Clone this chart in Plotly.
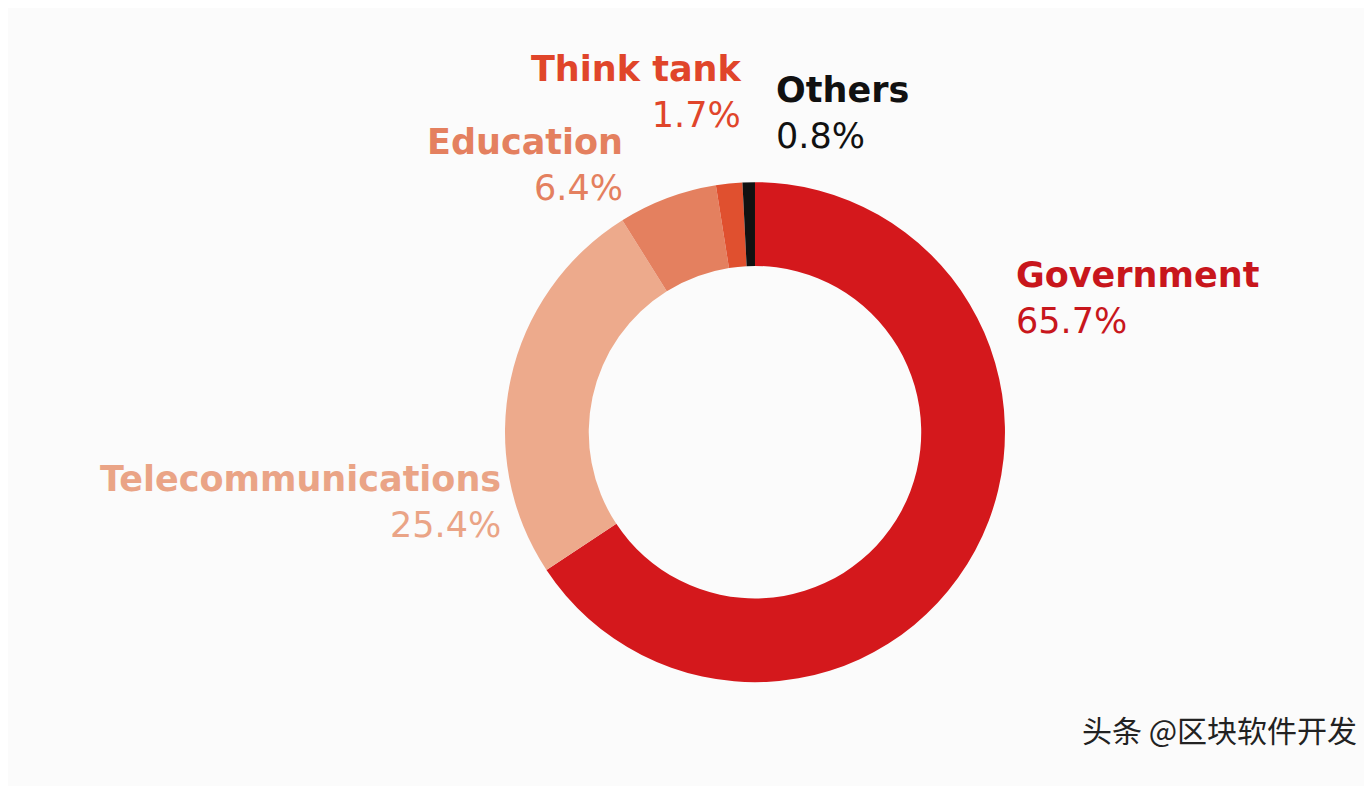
import plotly.graph_objects as go

labels = ["Government", "Telecommunications", "Education", "Think tank", "Others"]
values = [65.7, 25.4, 6.4, 1.7, 0.8]
colors = ["#D4181C", "#EDAA8C", "#E4805F", "#E0502F", "#111111"]
text_colors = ["#C8161C", "#EAA486", "#E4805F", "#E0452A", "#111111"]
# label anchor positions (paper coords), text alignment
label_pos = [(0.733, 0.631, "left"), (0.361, 0.371, "right"), (0.45, 0.8, "right"),
             (0.536, 0.893, "right"), (0.558, 0.867, "left")]

fig = go.Figure(go.Pie(
    labels=labels, values=values, hole=0.665, sort=False, direction="clockwise",
    rotation=0, marker=dict(colors=colors, line=dict(width=0)),
    textinfo="none", hoverinfo="label+percent", showlegend=False,
    domain=dict(x=[0.3622, 0.7267], y=[0.1423, 0.7784])))

for (lab, val, col, (x, y, al)) in zip(labels, values, text_colors, label_pos):
    fig.add_annotation(x=x, y=y, xref="paper", yref="paper", xanchor=al, yanchor="middle",
                       align=al, showarrow=False,
                       text=f"<b>{lab}</b><br>{val}%",
                       font=dict(family="DejaVu Sans", size=35, color=col))

fig.add_annotation(x=0.985, y=0.052, xref="paper", yref="paper", xanchor="right",
                   showarrow=False, text="头条 @区块软件开发",
                   font=dict(family="Noto Sans CJK SC", size=30, color="#222222"))

fig.update_layout(width=1372, height=786, margin=dict(l=0, r=0, t=0, b=0),
                  paper_bgcolor="#FBFBFB", plot_bgcolor="#FBFBFB")
fig.write_html("out.html")
